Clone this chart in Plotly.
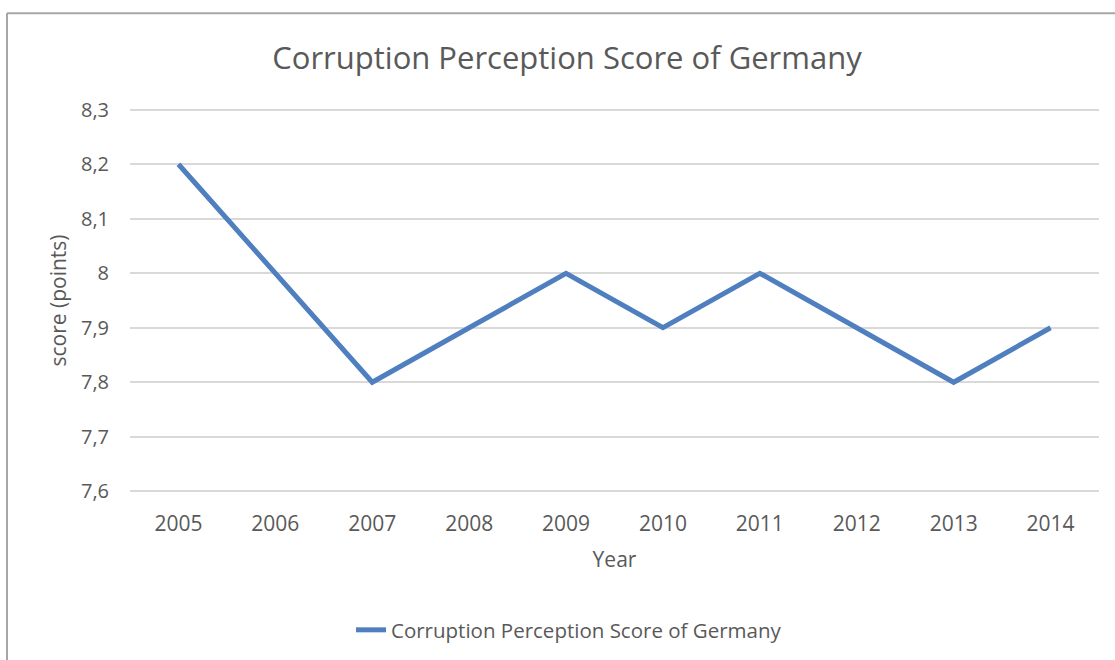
import plotly.graph_objects as go

years = ["2005", "2006", "2007", "2008", "2009", "2010", "2011", "2012", "2013", "2014"]
scores = [8.2, 8.0, 7.8, 7.9, 8.0, 7.9, 8.0, 7.9, 7.8, 7.9]
y_ticks = [7.6, 7.7, 7.8, 7.9, 8.0, 8.1, 8.2, 8.3]
y_ticklabels = ["7,6", "7,7", "7,8", "7,9", "8", "8,1", "8,2", "8,3"]

series_name = "Corruption Perception Score of Germany"
FONT = "Open Sans"
TEXT = "#595959"
GRID = "#d9d9d9"

fig = go.Figure()
fig.add_trace(go.Scatter(
    x=years, y=scores, mode="lines", name=series_name,
    line=dict(color="#4f7fbf", width=5),
))

W, H = 1115, 660
L, R, T, B = 130, 16, 107, 165
pw, ph = W - L - R, H - T - B

def px_x(x):
    return (x - L) / pw

def px_y(y):
    return (H - B - y) / ph

fig.update_layout(
    width=W, height=H,
    margin=dict(l=L, r=R, t=T, b=B),
    paper_bgcolor="white", plot_bgcolor="white",
    font=dict(family=FONT, color=TEXT),
    title=dict(text=series_name, x=567 / W, xanchor="center",
               y=1 - 58 / H, yanchor="middle",
               font=dict(size=31, color=TEXT, family=FONT)),
    showlegend=True,
    legend=dict(orientation="h", x=px_x(569), xanchor="center",
                y=px_y(630), yanchor="middle",
                font=dict(size=20.5, color=TEXT, family=FONT)),
    shapes=[
        # chart frame (cut off at right and bottom)
        dict(type="line", xref="paper", yref="paper",
             x0=px_x(7), x1=px_x(W + 5), y0=px_y(13), y1=px_y(13),
             line=dict(color="#a6a6a6", width=2)),
        dict(type="line", xref="paper", yref="paper",
             x0=px_x(7), x1=px_x(7), y0=px_y(13), y1=px_y(H + 5),
             line=dict(color="#a6a6a6", width=2)),
    ],
)

fig.update_xaxes(
    type="category", range=[-0.5, 9.5], showgrid=False, showline=False,
    zeroline=False, ticks="", tickfont=dict(size=21, color=TEXT),
    ticklabelstandoff=15,
    title=dict(text="Year", font=dict(size=21, color=TEXT), standoff=16),
)
fig.update_yaxes(
    range=[7.595, 8.305], tickvals=y_ticks, ticktext=y_ticklabels,
    showgrid=True, gridcolor=GRID, gridwidth=1.5, zeroline=False,
    showline=False, ticks="", tickfont=dict(size=20, color=TEXT),
    ticklabelstandoff=20,
    title=dict(text="score (points)", font=dict(size=21, color=TEXT), standoff=8),
)

fig.write_html("out.html", config={"displayModeBar": False},
               post_script="document.body.style.margin='0';")
